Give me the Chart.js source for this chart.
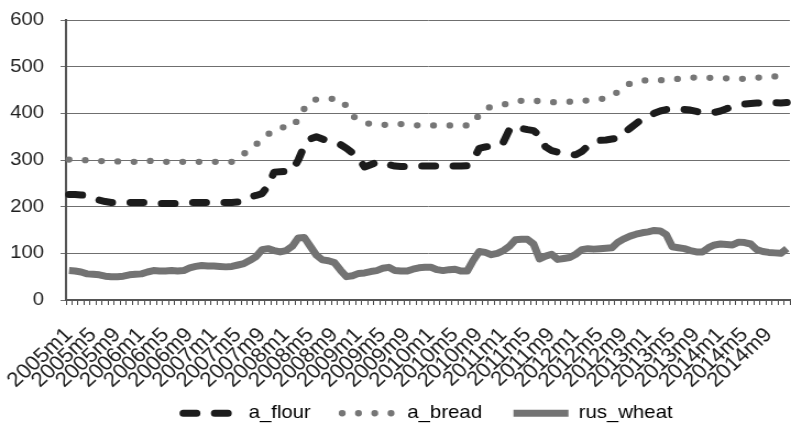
<!DOCTYPE html>
<html lang="en">
<head>
    <meta charset="UTF-8">
    <title>Flour, bread and wheat prices</title>
    <script src="https://cdn.jsdelivr.net/npm/chart.js"></script>
    <style>
        body {
            margin: 0;
            background-color: #ffffff;
        }
        /* the original figure is stretched a little sideways, so the
           canvas is drawn narrower and widened to the page width */
        #priceChart {
            width: 791px;
            height: 425px;
        }
    </style>
</head>
<body>
    <canvas id="priceChart" width="719" height="425" style="width:791px;height:425px"></canvas>

    <script>
        // Monthly series, 2005m1 .. 2014m12 (one row per year)
        const years = [2005, 2006, 2007, 2008, 2009, 2010, 2011, 2012, 2013, 2014];

        const aFlour = [
            226, 226, 225, 224, 218, 214, 211, 209, 209, 209, 209, 209,
            209, 209, 208, 207, 207, 207, 207, 208, 209, 209, 209, 209,
            209, 209, 209, 209, 210, 213, 221, 224, 228, 245, 274, 275,
            276, 277, 300, 330, 345, 350, 345, 340, 337, 333, 325, 315,
            303, 285, 290, 295, 296, 290, 287, 286, 286, 286, 287, 287,
            287, 287, 287, 288, 287, 287, 288, 300, 325, 328, 330, 330,
            338, 365, 374, 368, 365, 363, 352, 328, 320, 317, 315, 313,
            311, 318, 330, 338, 342, 343, 345, 347, 358, 368, 378, 388,
            393, 400, 405, 408, 409, 409, 408, 407, 404, 401, 400, 402,
            405, 410, 414, 417, 420, 421, 422, 423, 423, 423, 422, 423
        ];

        const aBread = [
            301, 301, 301, 299, 299, 298, 297, 297, 297, 296, 296, 296,
            297, 298, 298, 296, 296, 296, 296, 296, 296, 296, 296, 296,
            296, 296, 296, 296, 305, 313, 325, 333, 345, 355, 365, 370,
            370, 370, 388, 410, 426, 430, 431, 431, 431, 430, 415, 395,
            385, 380, 377, 376, 375, 376, 377, 377, 376, 375, 374, 374,
            374, 374, 374, 374, 374, 374, 374, 377, 398, 410, 414, 417,
            419, 421, 424, 427, 428, 427, 426, 425, 424, 424, 425, 425,
            425, 426, 428, 430, 431, 431, 438, 446, 457, 464, 468, 470,
            471, 471, 471, 471, 472, 474, 475, 476, 477, 477, 476, 476,
            476, 475, 474, 474, 474, 475, 476, 478, 478, 479, 479, 479
        ];

        const rusWheat = [
            63, 62, 60, 56, 55, 54, 51, 50, 50, 51, 54, 55,
            56, 60, 63, 62, 62, 63, 62, 63, 69, 72, 74, 73,
            73, 72, 71, 72, 75, 78, 85, 93, 108, 110, 106, 103,
            106, 115, 133, 134, 115, 96, 86, 84, 80, 64, 50, 52,
            57, 58, 61, 63, 68, 70, 63, 62, 62, 66, 69, 70,
            70, 65, 63, 65, 66, 62, 62, 85, 104, 102, 97, 100,
            106, 115, 129, 130, 130, 120, 88, 94, 98, 87, 89, 91,
            98, 108, 110, 109, 110, 111, 112, 124, 131, 137, 141, 144,
            146, 149, 148, 140, 114, 112, 110, 106, 103, 103, 112, 118,
            120, 119, 118, 124, 123, 120, 108, 104, 102, 101, 100, 110
        ];

        const yTicks = [0, 100, 200, 300, 400, 500, 600];

        // Category labels like "2005m1"
        const labels = [];
        years.forEach(y => {
            for (let m = 1; m <= 12; m++) labels.push(y + 'm' + m);
        });

        const textColor = '#1e1e1e';
        const fontFamily = 'Liberation Sans, Arial, sans-serif';
        const font = { family: fontFamily, size: 18.5 };
        const xFont = { family: fontFamily, size: 20.5 };
        // extra room after each legend entry (legend padding also sets its vertical offset)
        const legendGaps = ['    ', '    ', ''];

        new Chart(document.getElementById('priceChart'), {
            type: 'line',
            data: {
                labels: labels,
                datasets: [{
                    label: 'a_flour',
                    data: aFlour,
                    borderColor: '#1c1c1c',
                    borderWidth: 7,
                    borderDash: [12, 16.5],
                    borderCapStyle: 'round',
                    borderJoinStyle: 'round',
                    pointRadius: 0,
                    tension: 0
                }, {
                    label: 'a_bread',
                    data: aBread,
                    borderColor: '#767676',
                    borderWidth: 6.3,
                    borderDash: [0, 14.8],
                    borderCapStyle: 'round',
                    borderJoinStyle: 'round',
                    pointRadius: 0,
                    tension: 0
                }, {
                    label: 'rus_wheat',
                    data: rusWheat,
                    borderColor: '#737373',
                    borderWidth: 7,
                    borderCapStyle: 'butt',
                    borderJoinStyle: 'round',
                    pointRadius: 0,
                    tension: 0
                }]
            },
            options: {
                responsive: false,
                animation: false,
                devicePixelRatio: 1,
                layout: { padding: { top: 20, right: 1, left: 0, bottom: 0 } },
                plugins: {
                    tooltip: { enabled: false },
                    legend: {
                        position: 'bottom',
                        fullSize: false,
                        maxHeight: 29,
                        labels: {
                            font: font,
                            color: textColor,
                            usePointStyle: true,
                            pointStyleWidth: 50,
                            padding: 8,
                            // draw each sample as a short line in the series' own stroke style
                            generateLabels: chart => chart.data.datasets.map((ds, i) => ({
                                text: ds.label + legendGaps[i],
                                fillStyle: 'transparent',
                                strokeStyle: ds.borderColor,
                                lineWidth: ds.borderWidth,
                                lineDash: ds.borderDash || [],
                                lineCap: ds.borderCapStyle,
                                pointStyle: 'line',
                                hidden: false,
                                datasetIndex: i
                            }))
                        }
                    }
                },
                scales: {
                    x: {
                        offset: true,
                        grid: {
                            offset: true,
                            drawOnChartArea: false,
                            drawTicks: true,
                            tickLength: 5,
                            color: '#4a4a4a'
                        },
                        border: { color: '#555555', width: 2 },
                        ticks: {
                            autoSkip: false,
                            maxRotation: 45,
                            minRotation: 45,
                            padding: 18,
                            font: xFont,
                            color: textColor,
                            callback: function (value, index) {
                                return index % 4 === 0 ? labels[index] : '';
                            }
                        },
                        afterFit: scale => {
                            scale.height = 96;
                            scale.paddingLeft = 0;
                            scale.paddingRight = 0;
                        }
                    },
                    y: {
                        min: 0,
                        max: 600,
                        afterBuildTicks: scale => {
                            scale.ticks = yTicks.map(v => ({ value: v }));
                        },
                        grid: {
                            color: '#6f6f6f',
                            lineWidth: 1,
                            tickLength: 5
                        },
                        border: { color: '#555555', width: 2 },
                        ticks: {
                            padding: 15,
                            font: font,
                            color: textColor
                        },
                        afterFit: scale => {
                            scale.width = 60;
                            scale.paddingTop = 0;
                            scale.paddingBottom = 0;
                        }
                    }
                }
            }
        });
    </script>
</body>
</html>
